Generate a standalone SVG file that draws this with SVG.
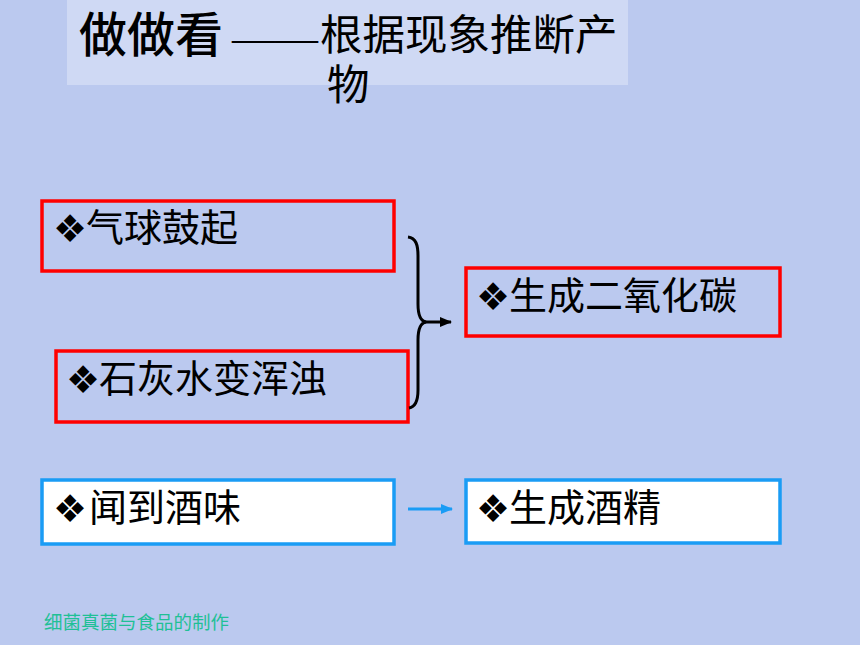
<svg xmlns="http://www.w3.org/2000/svg" width="860" height="645" viewBox="0 0 860 645">
<style>
.cjk{font-family:"Noto Sans CJK SC","DejaVu Sans",sans-serif;}
.item{font-size:38px;fill:#000;}
.dia{font-family:"DejaVu Sans",sans-serif;font-size:38px;fill:#000;}
.red{fill:none;stroke:#ff0000;stroke-width:3.5;}
.blue{fill:#ffffff;stroke:#1a9cf5;stroke-width:3.5;}
</style>
<defs>
<marker id="ah" markerWidth="12" markerHeight="12" refX="11" refY="6" orient="auto" markerUnits="userSpaceOnUse">
<path d="M0,1 L12,6 L0,11 Z" fill="#000"/>
</marker>
<marker id="ahb" markerWidth="12" markerHeight="12" refX="11" refY="6" orient="auto" markerUnits="userSpaceOnUse">
<path d="M0,1 L12,6 L0,11 Z" fill="#1a9cf5"/>
</marker>
</defs>
<rect x="0" y="0" width="860" height="645" fill="#bbc9ef"/>
<rect x="67" y="0" width="561" height="85" fill="#ffffff" fill-opacity="0.3"/>
<g id="title">
<text class="cjk" x="79" y="52" font-size="48" font-weight="500" fill="#000">做做看</text>
<text x="232" y="51" font-family="Liberation Serif, serif" font-size="40" textLength="86" lengthAdjust="spacingAndGlyphs" fill="#000">——</text>
<text class="cjk" x="320" y="50" font-size="42.5" fill="#000">根据现象推断产</text>
<text class="cjk" x="327" y="100" font-size="42.5" fill="#000">物</text>
</g>
<g id="node-balloon">
<rect class="red" x="42" y="201" width="352" height="70"/>
<text class="dia" x="53" y="242">❖</text>
<text class="cjk item" x="86" y="241">气球鼓起</text>
</g>
<g id="node-limewater">
<rect class="red" x="56" y="351" width="352" height="71"/>
<text class="dia" x="66" y="393">❖</text>
<text class="cjk item" x="99" y="392">石灰水变浑浊</text>
</g>
<g id="node-co2">
<rect class="red" x="466" y="268" width="314" height="68"/>
<text class="dia" x="476" y="310">❖</text>
<text class="cjk item" x="509" y="309">生成二氧化碳</text>
</g>
<g id="node-smell">
<rect class="blue" x="42" y="480" width="352" height="64"/>
<text class="dia" x="53" y="522">❖</text>
<text class="cjk item" x="89" y="521">闻到酒味</text>
</g>
<g id="node-alcohol">
<rect class="blue" x="466" y="480" width="314" height="63"/>
<text class="dia" x="476" y="522">❖</text>
<text class="cjk item" x="509" y="521">生成酒精</text>
</g>
<g id="connectors">
<path d="M408,237 C416,238 418,245 418,256 L418,304 C418,315 420,321 426,322 C420,323 418,329 418,340 L418,390 C418,401 415,407 409,408" fill="none" stroke="#000" stroke-width="3"/>
<line x1="424" y1="322" x2="451" y2="322" stroke="#000" stroke-width="3" marker-end="url(#ah)"/>
<line x1="408" y1="509" x2="452" y2="509" stroke="#1a9cf5" stroke-width="3" marker-end="url(#ahb)"/>
</g>
<text class="cjk" x="44" y="629" font-size="18.5" fill="#1fc096">细菌真菌与食品的制作</text>
</svg>
